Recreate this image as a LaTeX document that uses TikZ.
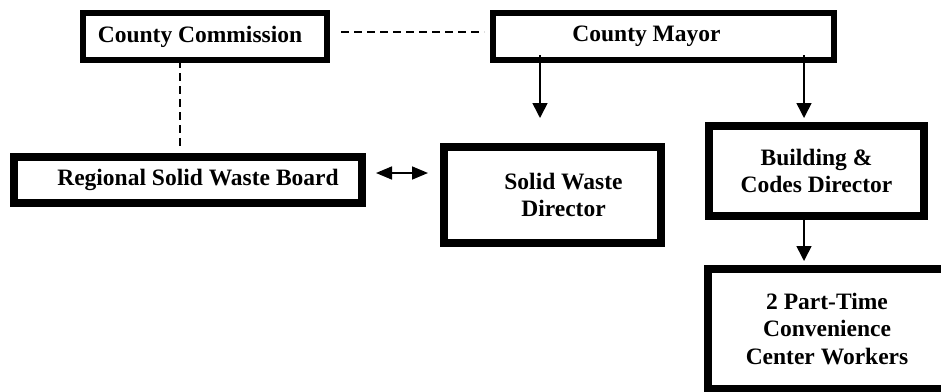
\documentclass[tikz,border=0pt]{standalone}
\usepackage{fontspec}
\setmainfont{Liberation Serif}
\usepackage{tikz}
\usetikzlibrary{arrows.meta}

\begin{document}
\begin{tikzpicture}[x=1pt,y=-1pt,
        box/.style={draw,line width=8pt,align=center,inner sep=0pt,
            font=\fontsize{23.5}{27.5}\selectfont\bfseries},
        topbox/.style={box,line width=6pt},
        arr/.style={line width=1.6pt,-{Triangle[length=15pt,width=15pt]}},
        dbl/.style={line width=1.6pt,{Triangle[length=16pt,width=13pt]}-{Triangle[length=16pt,width=13pt]}},
        dsh/.style={line width=1.5pt,dash pattern=on 8pt off 5pt}]
    \useasboundingbox(0,0)rectangle(941,391);
    \clip(0,0)rectangle(941,391);

    \node[topbox,minimum width=244pt,minimum height=47pt](comm)at(205,36.5){County Commission\hspace*{10pt}};
    \node[topbox,minimum width=341pt,minimum height=47pt](mayor)at(663.5,36.5){County Mayor\hspace*{34pt}};
    \node[box,minimum width=348pt,minimum height=46pt](regional)at(188,180){\hspace*{20pt}Regional Solid Waste Board};
    \node[box,minimum width=217pt,minimum height=96pt](sw)at(552.5,195){\hspace*{22pt}Solid Waste\\\hspace*{22pt}Director};
    \node[box,minimum width=215pt,minimum height=90pt](bcd)at(816.5,171){Building \&\\Codes Director};
    \node[box,minimum width=238pt,minimum height=120pt](ptw)at(827,329){2 Part-Time\\Convenience\\Center Workers};

    \draw[dsh]([xshift=11pt,yshift=4.5pt]comm.east)--([xshift=-6pt,yshift=4.5pt]mayor.west);
    \draw[dsh]([xshift=-25pt,yshift=3pt]comm.south)--([xshift=-8pt,yshift=7pt]regional.north);

    \draw[arr]([xshift=-123.5pt,yshift=8pt]mayor.south)--([xshift=-12.5pt,yshift=25pt]sw.north);
    \draw[arr]([xshift=140.5pt,yshift=8pt]mayor.south)--([xshift=-12.5pt,yshift=4pt]bcd.north);
    \draw[arr]([xshift=-12.5pt]bcd.south)--([xshift=-23pt,yshift=4pt]ptw.north);
    \draw[dbl]([xshift=10pt,yshift=7pt]regional.east)--([xshift=-12pt,yshift=22pt]sw.west);
\end{tikzpicture}
\end{document}
